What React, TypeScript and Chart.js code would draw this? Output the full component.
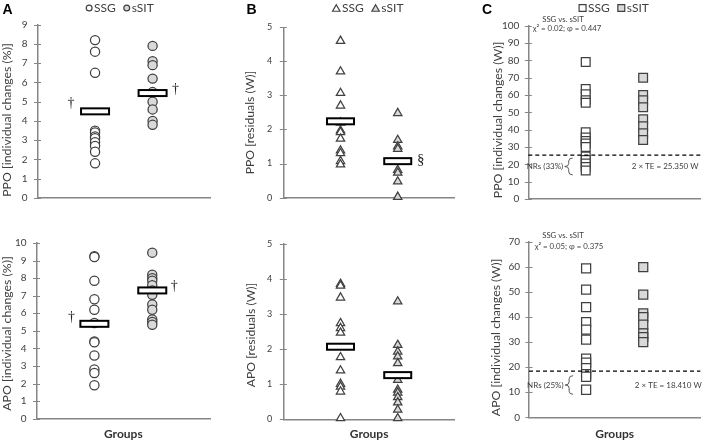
import React, { useEffect, useRef } from "react";
import { Chart, registerables } from "chart.js";

Chart.register(...registerables);

// ---------- data ----------
const groupLabels = ["SSG", "sSIT"];
const groupX = [1, 2];

// Panel A: individual changes (%)
const ppoPctSSG = [8.2, 7.6, 6.5, 3.5, 3.4, 3.2, 3.1, 2.9, 2.7, 2.4, 1.8];
const ppoPctSSIT = [7.9, 7.1, 6.9, 6.2, 5.5, 5.0, 4.6, 4.0, 3.8];
const ppoPctMeans = [4.5, 5.45];
const apoPctSSG = [9.25, 9.2, 7.85, 6.8, 6.2, 5.45, 4.4, 4.35, 3.6, 2.8, 2.6, 1.9];
const apoPctSSIT = [9.45, 8.2, 8.0, 7.85, 7.6, 7.3, 7.05, 6.5, 6.2, 5.65, 5.5, 5.35];
const apoPctMeans = [5.4, 7.3];

// Panel B: residuals (W)
const ppoResSSG = [4.6, 3.7, 3.07, 2.7, 2.2, 1.97, 1.92, 1.73, 1.38, 1.3, 1.07, 0.97];
const ppoResSSIT = [2.48, 1.69, 1.5, 1.43, 0.81, 0.73, 0.47, 0.02];
const ppoResMeans = [2.24, 1.07];
const apoResSSG = [3.86, 3.81, 3.47, 2.74, 2.6, 2.47, 1.77, 1.39, 1.01, 0.93, 0.79, 0.03];
const apoResSSIT = [3.36, 2.12, 1.93, 1.79, 1.6, 1.12, 0.84, 0.76, 0.63, 0.48, 0.27, 0.03];
const apoResMeans = [2.07, 1.26];

// Panel C: individual changes (W)
const ppoAbsSSG = [79, 63.5, 60.5, 57, 55.5, 38.5, 35.5, 33.5, 32, 30, 24.5, 22.5, 20.5, 18.5, 16.5];
const ppoAbsSSIT = [70, 60, 57, 53, 46, 42, 38, 34];
const apoAbsSSG = [59.5, 51, 44, 38, 35, 31, 23.4, 21.8, 19.6, 17.2, 16.2, 11];
const apoAbsSSIT = [60, 49, 41.5, 40, 37, 33.5, 32, 30];
const ppoTE = 25.35;
const apoTE = 18.41;

const yTicksA1 = { max: 9, step: 1 };
const yTicksA2 = { max: 10, step: 1 };
const yTicksB = { max: 5, step: 1 };
const yTicksC1 = { max: 100, step: 10 };
const yTicksC2 = { max: 70, step: 10 };

// ---------- styles ----------
const FONT = "Lato, 'Open Sans', sans-serif";
const SERIF = "'Liberation Serif', 'DejaVu Serif', serif";
const AXIS = "#868686";
const TEXT = "#404040";
const EDGE = "#404040";
const FILL_SSG = "#ffffff";
const FILL_SSIT = "#d9d9d9";

type Marker = "circle" | "triangle" | "rect";

interface Mark { g: number; v: number; dx: number; t: string; size: number }
interface FreeText { t: string; x: number; y: number; size: number }

interface PanelSpec {
  key: string;
  letter?: { t: string; x: number; y: number };
  box: { left: number; top: number; width: number; height: number };
  area: { left: number; top: number; right: number; bottom: number };
  marker: Marker;
  radius: number;
  ssg: number[];
  ssit: number[];
  means?: number[];
  meanW?: number;
  meanH?: number;
  yMax: number;
  yStep: number;
  yTitle: string;
  yTitlePos: [number, number];
  yTitleSize: number;
  tickSize: number;
  tickPad: number;
  xTitle?: string;
  legend?: { x: number; y: number; r: number };
  marks?: Mark[];
  texts?: FreeText[];
  threshold?: number;
  nr?: { label: string; te: string; teDx: number };
}

const panels: PanelSpec[] = [
  {
    key: "A1",
    letter: { t: "A", x: 2.5, y: 14 },
    box: { left: 0, top: 0, width: 216, height: 214 },
    area: { left: 37.5, top: 24.7, right: 212, bottom: 200.7 },
    marker: "circle", radius: 4.6,
    ssg: ppoPctSSG, ssit: ppoPctSSIT, means: ppoPctMeans, meanW: 28, meanH: 6,
    yMax: yTicksA1.max, yStep: yTicksA1.step,
    yTitle: "PPO [individual changes (%)]", yTitlePos: [7.5, 120], yTitleSize: 12.3,
    tickSize: 10, tickPad: 10,
    legend: { x: 120, y: 8, r: 2.9 },
    marks: [
      { g: 0, v: 4.9, dx: -24, t: "†", size: 14 },
      { g: 1, v: 5.62, dx: 23, t: "†", size: 14 },
    ],
  },
  {
    key: "A2",
    box: { left: 0, top: 221, width: 216, height: 221 },
    area: { left: 36.5, top: 243, right: 211, bottom: 418.7 },
    marker: "circle", radius: 4.6,
    ssg: apoPctSSG, ssit: apoPctSSIT, means: apoPctMeans, meanW: 28, meanH: 6,
    yMax: yTicksA2.max, yStep: yTicksA2.step,
    yTitle: "APO [individual changes (%)]", yTitlePos: [7.5, 333.5], yTitleSize: 12.3,
    tickSize: 10, tickPad: 10,
    xTitle: "Groups",
    marks: [
      { g: 0, v: 5.79, dx: -23, t: "†", size: 14 },
      { g: 1, v: 7.55, dx: 22, t: "†", size: 14 },
    ],
  },
  {
    key: "B1",
    letter: { t: "B", x: 246.5, y: 14 },
    box: { left: 243, top: 0, width: 218, height: 214 },
    area: { left: 283.3, top: 27.3, right: 458, bottom: 202.3 },
    marker: "triangle", radius: 4.8,
    ssg: ppoResSSG, ssit: ppoResSSIT, means: ppoResMeans, meanW: 27, meanH: 6,
    yMax: yTicksB.max, yStep: yTicksB.step,
    yTitle: "PPO [residuals (W)]", yTitlePos: [250, 122.5], yTitleSize: 12.2,
    tickSize: 9, tickPad: 11,
    legend: { x: 368, y: 8, r: 4.3 },
    marks: [{ g: 1, v: 1.09, dx: 23, t: "§", size: 15 }],
  },
  {
    key: "B2",
    box: { left: 243, top: 221, width: 218, height: 221 },
    area: { left: 283.3, top: 244, right: 458, bottom: 419.3 },
    marker: "triangle", radius: 4.8,
    ssg: apoResSSG, ssit: apoResSSIT, means: apoResMeans, meanW: 27, meanH: 6,
    yMax: yTicksB.max, yStep: yTicksB.step,
    yTitle: "APO [residuals (W)]", yTitlePos: [250.7, 335], yTitleSize: 12.2,
    tickSize: 9, tickPad: 11,
    xTitle: "Groups",
  },
  {
    key: "C1",
    letter: { t: "C", x: 482, y: 14 },
    box: { left: 480, top: 0, width: 228, height: 214 },
    area: { left: 528.3, top: 25.7, right: 707, bottom: 201.7 },
    marker: "rect", radius: 6.2,
    ssg: ppoAbsSSG, ssit: ppoAbsSSIT,
    yMax: yTicksC1.max, yStep: yTicksC1.step,
    yTitle: "PPO [individual changes (W)]", yTitlePos: [498, 120], yTitleSize: 12.3,
    tickSize: 10, tickPad: 9,
    legend: { x: 614, y: 8, r: 4.9 },
    threshold: ppoTE,
    nr: { label: "NRs (33%)", te: "2 × TE = 25.350 W", teDx: 22 },
    texts: [
      { t: "SSG vs. sSIT", x: 563, y: 19.3, size: 7.8 },
      { t: "χ² = 0.02; φ = 0.447", x: 567, y: 28, size: 7.8 },
    ],
  },
  {
    key: "C2",
    box: { left: 480, top: 221, width: 228, height: 221 },
    area: { left: 529, top: 242, right: 707, bottom: 417.3 },
    marker: "rect", radius: 6.4,
    ssg: apoAbsSSG, ssit: apoAbsSSIT,
    yMax: yTicksC2.max, yStep: yTicksC2.step,
    yTitle: "APO [individual changes (W)]", yTitlePos: [496, 337.5], yTitleSize: 12.3,
    tickSize: 10, tickPad: 9,
    xTitle: "Groups",
    threshold: apoTE,
    nr: { label: "NRs (25%)", te: "2 × TE = 18.410 W", teDx: 25 },
    texts: [
      { t: "SSG vs. sSIT", x: 563, y: 235, size: 7.8 },
      { t: "χ² = 0.05; φ = 0.375", x: 569, y: 246, size: 7.8 },
    ],
  },
];

// ---------- drawing helpers ----------
function drawMarker(ctx: CanvasRenderingContext2D, style: Marker, x: number, y: number, r: number, fill: string) {
  ctx.beginPath();
  if (style === "circle") {
    ctx.arc(x, y, r, 0, Math.PI * 2);
  } else if (style === "triangle") {
    const hw = r * Math.sin(Math.PI * 2 / 3);
    ctx.moveTo(x, y - r);
    ctx.lineTo(x + hw, y + r / 2);
    ctx.lineTo(x - hw, y + r / 2);
    ctx.closePath();
  } else {
    const s = r * Math.SQRT1_2;
    ctx.rect(x - s, y - s, 2 * s, 2 * s);
  }
  ctx.fillStyle = fill;
  ctx.fill();
  ctx.strokeStyle = EDGE;
  ctx.lineWidth = 1.2;
  ctx.stroke();
}

function drawBrace(ctx: CanvasRenderingContext2D, xTip: number, xEnd: number, yTop: number, yBot: number) {
  const mid = (yTop + yBot) / 2;
  const xm = (xTip + xEnd) / 2;
  const r = Math.min(3, (yBot - yTop) / 4);
  ctx.beginPath();
  ctx.moveTo(xEnd, yTop);
  ctx.quadraticCurveTo(xm, yTop, xm, yTop + r);
  ctx.lineTo(xm, mid - r);
  ctx.quadraticCurveTo(xm, mid, xTip, mid);
  ctx.quadraticCurveTo(xm, mid, xm, mid + r);
  ctx.lineTo(xm, yBot - r);
  ctx.quadraticCurveTo(xm, yBot, xEnd, yBot);
  ctx.strokeStyle = "#595959";
  ctx.lineWidth = 1;
  ctx.stroke();
}

function overlayPlugin(spec: PanelSpec) {
  const ox = spec.box.left;
  const oy = spec.box.top;
  return {
    id: "overlay" + spec.key,
    afterDatasetsDraw(chart: any) {
      const ctx: CanvasRenderingContext2D = chart.ctx;
      const xs = chart.scales.x;
      const ys = chart.scales.y;
      const ca = chart.chartArea;
      ctx.save();

      // crossing tick marks on y axis
      ctx.strokeStyle = AXIS;
      ctx.lineWidth = 1;
      ys.ticks.forEach((t: any) => {
        const y = Math.round(ys.getPixelForValue(t.value)) + 0.5;
        ctx.beginPath();
        ctx.moveTo(ca.left - 3.5, y);
        ctx.lineTo(ca.left + 3.5, y);
        ctx.stroke();
      });

      // group means
      if (spec.means) {
        const w = spec.meanW || 28;
        const h = spec.meanH || 6;
        spec.means.forEach((m, i) => {
          const cx = xs.getPixelForValue(groupX[i]);
          const cy = ys.getPixelForValue(m);
          ctx.fillStyle = "#ffffff";
          ctx.fillRect(cx - w / 2, cy - h / 2, w, h);
          ctx.strokeStyle = "#000000";
          ctx.lineWidth = 2;
          ctx.strokeRect(cx - w / 2, cy - h / 2, w, h);
        });
      }

      // significance marks
      (spec.marks || []).forEach((mk) => {
        const cx = xs.getPixelForValue(groupX[mk.g]) + mk.dx;
        const cy = ys.getPixelForValue(mk.v);
        ctx.font = `${mk.size}px ${SERIF}`;
        ctx.fillStyle = "#222";
        ctx.textAlign = "center";
        ctx.textBaseline = "middle";
        ctx.fillText(mk.t, cx, cy);
      });

      // non-responder annotation
      if (spec.nr && spec.threshold !== undefined) {
        const below = spec.ssg.filter((v) => v < spec.threshold!);
        const hi = Math.max(...below);
        const lo = Math.min(...below);
        const xS = xs.getPixelForValue(groupX[0]);
        const yT = ys.getPixelForValue(hi) + 1.5;
        const yB = ys.getPixelForValue(lo) + 4.5;
        drawBrace(ctx, xS - 21, xS - 13, yT, yB);
        const mid = (yT + yB) / 2;
        ctx.font = `8px ${FONT}`;
        ctx.fillStyle = TEXT;
        ctx.textBaseline = "middle";
        ctx.textAlign = "right";
        ctx.fillText(spec.nr.label, xS - 22.5, mid);
        ctx.textAlign = "center";
        ctx.fillText(spec.nr.te, xs.getPixelForValue(groupX[1]) + spec.nr.teDx, mid);
      }

      // free texts
      (spec.texts || []).forEach((tx) => {
        ctx.font = `${tx.size}px ${FONT}`;
        ctx.fillStyle = TEXT;
        ctx.textAlign = "center";
        ctx.textBaseline = "middle";
        ctx.fillText(tx.t, tx.x - ox, tx.y - oy);
      });

      // y title
      ctx.save();
      ctx.translate(spec.yTitlePos[0] - ox, spec.yTitlePos[1] - oy);
      ctx.rotate(-Math.PI / 2);
      ctx.font = `${spec.yTitleSize}px ${FONT}`;
      ctx.fillStyle = TEXT;
      ctx.textAlign = "center";
      ctx.textBaseline = "middle";
      ctx.fillText(spec.yTitle, 0, 0);
      ctx.restore();

      // panel letter
      if (spec.letter) {
        ctx.font = `bold 14px 'Liberation Sans', Arial, sans-serif`;
        ctx.fillStyle = "#000";
        ctx.textAlign = "left";
        ctx.textBaseline = "alphabetic";
        ctx.fillText(spec.letter.t, spec.letter.x - ox, spec.letter.y - oy);
      }

      // legend
      if (spec.legend) {
        const lg = spec.legend;
        ctx.font = `12px ${FONT}`;
        const fills = [FILL_SSG, FILL_SSIT];
        const mw = spec.marker === "triangle" ? lg.r * 1.75 : spec.marker === "rect" ? lg.r * 1.414 : lg.r * 2;
        const gapM = 2;
        const gapI = 8;
        const widths = groupLabels.map((l) => ctx.measureText(l).width);
        const total = widths.reduce((a, w) => a + mw + gapM + w, 0) + gapI;
        let x = lg.x - ox - total / 2;
        const y = lg.y - oy;
        groupLabels.forEach((l, i) => {
          const my = spec.marker === "triangle" ? y + lg.r * 0.25 : y;
          drawMarker(ctx, spec.marker, x + mw / 2, my, lg.r, fills[i]);
          x += mw + gapM;
          ctx.fillStyle = TEXT;
          ctx.textAlign = "left";
          ctx.textBaseline = "middle";
          ctx.fillText(l, x, y);
          x += widths[i] + gapI;
        });
      }
      ctx.restore();
    },
  };
}

function buildConfig(spec: PanelSpec): any {
  const padTop = spec.area.top - spec.box.top;
  const padRight = spec.box.left + spec.box.width - spec.area.right;
  const yW = spec.area.left - spec.box.left;
  const xH = spec.box.top + spec.box.height - spec.area.bottom;

  const datasets: any[] = [];
  if (spec.threshold !== undefined) {
    datasets.push({
      label: "2 × TE",
      data: [{ x: 0, y: spec.threshold }, { x: 3, y: spec.threshold }],
      showLine: true,
      borderColor: "#000",
      borderWidth: 1.3,
      borderDash: [4, 3],
      pointRadius: 0,
      pointHoverRadius: 0,
      clip: false,
    });
  }
  [spec.ssg, spec.ssit].forEach((vals, i) => {
    datasets.push({
      label: groupLabels[i],
      data: vals.map((v) => ({ x: groupX[i], y: v })),
      pointStyle: spec.marker,
      pointRadius: spec.radius,
      pointHoverRadius: spec.radius,
      pointBackgroundColor: i === 0 ? FILL_SSG : FILL_SSIT,
      pointBorderColor: EDGE,
      pointBorderWidth: 1.25,
      showLine: false,
      clip: false,
    });
  });

  return {
    type: "scatter",
    data: { datasets },
    options: {
      animation: false,
      responsive: false,
      events: [],
      layout: { padding: { left: 0, top: padTop, right: padRight, bottom: 0 } },
      plugins: { legend: { display: false }, tooltip: { enabled: false } },
      scales: {
        x: {
          type: "linear",
          min: 0,
          max: 3,
          ticks: { display: false },
          grid: { display: false, drawTicks: false },
          border: { display: true, color: AXIS, width: 1.5 },
          title: spec.xTitle
            ? {
                display: true,
                text: spec.xTitle,
                color: "#333",
                font: { family: FONT, size: 12, weight: "bold" },
                padding: { top: 0, bottom: 1 },
              }
            : { display: false },
          afterFit: (s: any) => {
            s.height = xH;
          },
        },
        y: {
          type: "linear",
          min: 0,
          max: spec.yMax,
          ticks: {
            stepSize: spec.yStep,
            color: TEXT,
            padding: spec.tickPad,
            font: { family: FONT, size: spec.tickSize },
          },
          grid: { display: false, drawTicks: false },
          border: { display: true, color: AXIS, width: 1.5 },
          title: { display: false, text: spec.yTitle },
          afterFit: (s: any) => {
            s.width = yW;
          },
        },
      },
    },
    plugins: [overlayPlugin(spec)],
  };
}

function Panel({ spec }: { spec: PanelSpec }) {
  const ref = useRef<HTMLCanvasElement>(null);
  useEffect(() => {
    if (!ref.current) return;
    const chart = new Chart(ref.current, buildConfig(spec));
    return () => chart.destroy();
  }, [spec]);
  return (
    <canvas
      ref={ref}
      width={spec.box.width}
      height={spec.box.height}
      style={{
        position: "absolute",
        left: spec.box.left,
        top: spec.box.top,
        width: spec.box.width,
        height: spec.box.height,
      }}
    />
  );
}

export default function App() {
  return (
    <div
      style={{
        position: "fixed",
        left: 0,
        top: 0,
        width: 708,
        height: 442,
        background: "#ffffff",
        overflow: "hidden",
      }}
    >
      {panels.map((p) => (
        <Panel key={p.key} spec={p} />
      ))}
    </div>
  );
}
